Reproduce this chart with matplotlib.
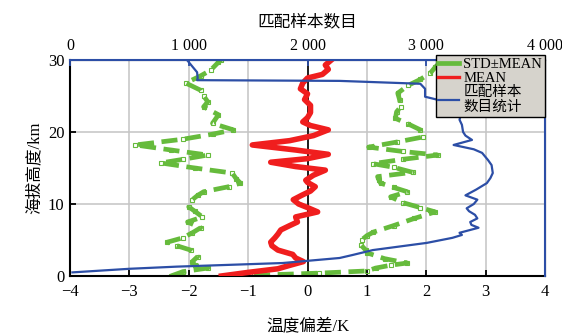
import matplotlib.pyplot as plt
from matplotlib.lines import Line2D

plt.rcParams['font.family'] = ['Liberation Serif', 'Noto Sans CJK SC']
plt.rcParams['axes.unicode_minus'] = True

# MEAN temperature bias (K) vs altitude (km)
mean_km = [0.0, 0.5, 1.0, 1.5, 2.0, 2.5, 3.0, 3.6, 4.2, 4.7, 5.3, 5.8, 6.4, 7.0,
           7.5, 8.2, 8.9, 9.5, 10.0, 10.6, 11.2, 11.8, 12.4, 13.0, 13.3, 14.0,
           14.7, 15.2, 15.8, 16.3, 16.9, 17.5, 18.2, 18.8, 19.5, 20.3, 20.9,
           21.4, 22.0, 22.7, 23.7, 24.5, 25.3, 26.0, 26.8, 27.5, 28.0, 28.7,
           29.3, 30.0]
mean_bias = [-1.45, -1.0, -0.5, -0.29, -0.07, -0.2, -0.25, -0.5, -0.6, -0.62,
             -0.55, -0.5, -0.45, -0.3, -0.17, -0.2, 0.17, 0.0, -0.15, -0.24,
             -0.1, 0.05, 0.13, 0.0, -0.03, 0.1, 0.3, -0.2, -0.62, 0.0, 0.35,
             -0.2, -0.93, -0.3, 0.1, 0.35, 0.05, -0.08, 0.0, 0.05, 0.05, -0.05,
             0.0, -0.12, -0.08, 0.0, 0.25, 0.35, 0.3, 0.4]

# MEAN - STD
low_km = [0.0, 0.6, 1.1, 1.5, 2.0, 2.7, 3.6, 4.2, 4.7, 5.3, 6.0, 6.7, 7.5, 8.2,
          9.0, 9.6, 10.6, 11.2, 11.7, 12.4, 12.9, 13.5, 14.3, 15.0, 15.7, 16.2,
          16.8, 17.5, 18.2, 19.0, 19.7, 20.3, 21.2, 22.4, 23.5, 24.2, 25.0,
          25.8, 26.8, 27.8, 28.6, 29.7, 30.0]
low_bias = [-2.3, -2.1, -1.68, -1.9, -1.94, -1.85, -1.97, -2.2, -2.36, -2.1,
            -1.94, -1.8, -2.02, -1.77, -1.9, -2.0, -1.94, -1.85, -1.75, -1.33,
            -1.13, -1.2, -1.27, -1.9, -2.47, -2.1, -1.68, -2.3, -2.9, -2.1,
            -1.6, -1.25, -1.6, -1.5, -1.75, -1.68, -1.75, -1.8, -2.05, -1.8,
            -1.63, -1.5, -1.45]

# MEAN + STD
high_km = [0.1, 0.4, 0.7, 1.1, 1.5, 1.8, 2.4, 3.2, 3.6, 4.3, 5.0, 5.6, 6.1,
           7.0, 8.0, 8.9, 9.5, 10.2, 11.0, 11.7, 12.3, 12.9, 13.4, 13.8, 14.4,
           15.1, 15.6, 16.2, 16.8, 17.3, 17.9, 18.6, 19.3, 20.3, 21.1, 21.9,
           22.8, 23.5, 24.5, 25.4, 26.5, 27.3, 28.2, 29.0, 29.7, 30.0]
high_bias = [-0.9, 0.2, 1.0, 1.15, 1.4, 1.68, 1.3, 1.01, 0.98, 0.9, 0.91, 1.0,
             1.11, 1.45, 1.8, 2.15, 1.9, 1.6, 1.4, 1.68, 1.45, 1.23, 1.2, 1.18,
             1.77, 1.45, 1.1, 1.6, 2.19, 1.6, 1.03, 1.5, 1.94, 1.9, 1.7, 1.48,
             1.5, 1.57, 1.55, 1.52, 1.7, 1.9, 2.07, 2.15, 2.24, 2.3]

# matched sample count vs altitude
count_km = [0.5, 1.0, 1.3, 1.8, 2.5, 2.9, 3.6, 4.6, 5.3, 5.7, 6.0, 6.7, 7.1,
            7.5, 8.0, 8.5, 9.0, 9.4, 10.0, 10.6, 11.2, 12.0, 12.9, 13.6, 14.3,
            15.4, 16.1, 17.1, 17.6, 18.2, 18.9, 19.5, 20.0, 21.0, 21.7, 23.0,
            23.7, 24.4, 24.9, 26.0, 26.7, 27.1, 27.2, 27.5, 28.3, 29.0, 30.0]
count_n = [20, 500, 900, 1790, 2270, 2375, 2550, 3005, 3220, 3300, 3280, 3440,
           3380, 3370, 3430, 3410, 3360, 3340, 3400, 3430, 3330, 3420, 3510,
           3540, 3560, 3550, 3520, 3470, 3400, 3230, 3385, 3330, 3310, 3300,
           3280, 3300, 3160, 3115, 2990, 2990, 2950, 2270, 1070, 1075, 1070,
           1035, 985]

green = '#66bb3c'
red = '#f01e1e'
blue = '#2c4ea6'

fig = plt.figure(figsize=(5.62, 3.36), dpi=100)
ax = fig.add_axes([0.1246, 0.1786, 0.8452, 0.6428])

ax.grid(True, color='#c4c4c4', lw=1.1)
ax.set_axisbelow(True)
ax.axvline(0, color='black', lw=1.2, zorder=1.5)

dash = (0, (3.4, 1.6))
for km, b in [(low_km, low_bias), (high_km, high_bias)]:
    ax.plot(b, km, color=green, lw=3.4, ls=dash, marker='s', ms=3.5,
            mfc='none', mec=green, mew=0.8, zorder=2)
ax.plot(mean_bias, mean_km, color=red, lw=4.0, zorder=3, solid_joinstyle='round')

ax.set_xlim(-4, 4)
ax.set_ylim(0, 30)
ax.set_xticks(range(-4, 5))
ax.set_yticks([0, 10, 20, 30])
ax.tick_params(direction='in', length=4, width=1.3, labelsize=12, colors='black')
ax.tick_params(axis='x', pad=6)
ax.tick_params(axis='y', pad=4)
ax.set_xlabel('温度偏差/K', fontsize=12, labelpad=13)
ax.set_ylabel('海拔高度/km', fontsize=12, labelpad=4)
for s in ['left', 'bottom']:
    ax.spines[s].set_linewidth(1.5)

ax2 = ax.twiny()
ax2.plot(count_n, count_km, color=blue, lw=1.6, zorder=4)
ax2.set_xlim(0, 4000)
ax2.set_xticks([0, 1000, 2000, 3000, 4000])
ax2.set_xticklabels(['0', '1 000', '2 000', '3 000', '4 000'])
ax2.tick_params(axis='x', direction='in', length=4, width=1.3, color=blue,
                labelcolor='black', labelsize=11.5, pad=4)
ax2.set_xlabel('匹配样本数目', fontsize=12, labelpad=9)
for s in ['top', 'right']:
    ax2.spines[s].set_color(blue)
    ax2.spines[s].set_linewidth(1.5)
ax2.spines['left'].set_visible(False)
ax2.spines['bottom'].set_visible(False)

handles = [Line2D([], [], color=green, lw=3.4),
           Line2D([], [], color=red, lw=2.4),
           Line2D([], [], color=blue, lw=1.6)]
labels = ['STD±MEAN', 'MEAN', '匹配样本\n数目统计']
leg = ax2.legend(handles, labels, loc='upper right', bbox_to_anchor=(1.0, 1.025),
                 fontsize=10.5, frameon=True, fancybox=False, framealpha=1,
                 facecolor='#d6d3cc', edgecolor='black', handlelength=1.4,
                 handletextpad=0.3, borderpad=0.2, labelspacing=0.05,
                 borderaxespad=0.0)
leg.get_frame().set_linewidth(1.0)

fig.savefig('out.png', dpi=100)
